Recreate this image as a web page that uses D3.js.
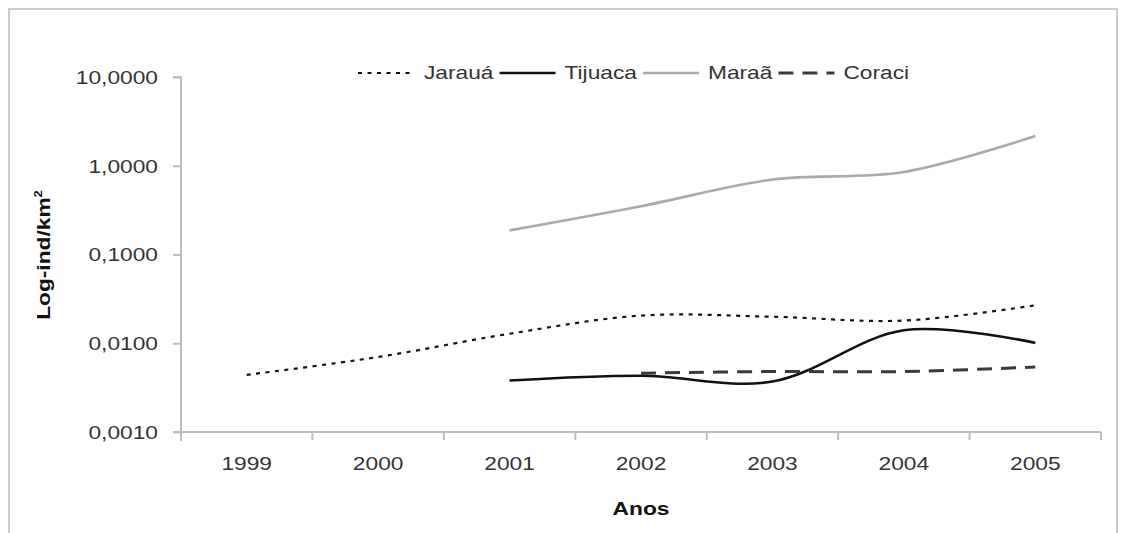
<!DOCTYPE html>
<html>
<head>
<meta charset="utf-8">
<script src="https://cdn.jsdelivr.net/npm/d3@7"></script>
<style>
  html, body { margin: 0; padding: 0; background: #ffffff; }
  svg { display: block; font-family: "Liberation Sans", Arial, sans-serif; }
</style>
</head>
<body>
<svg id="chart" width="1123" height="533"></svg>
<script>
// ---- data ----
const years = ["1999", "2000", "2001", "2002", "2003", "2004", "2005"];
const jaraua  = [0.0044, 0.0070, 0.0128, 0.0205, 0.0199, 0.0180, 0.0268];
const tijuaca = [null, null, 0.0038, 0.0043, 0.0037, 0.0140, 0.0101];
const maraa   = [null, null, 0.187, 0.35, 0.70, 0.85, 2.16];
const coraci  = [null, null, null, 0.0046, 0.0048, 0.0048, 0.0054];
const seriesNames = ["Jarauá", "Tijuaca", "Maraã", "Coraci"];
const yTickValues = [0.001, 0.01, 0.1, 1, 10];
const yTickLabels = ["0,0010", "0,0100", "0,1000", "1,0000", "10,0000"];
const yTitle = "Log-ind/km";
const xTitle = "Anos";

// ---- styles ----
const styles = [
  { color: "#111", width: 2.2, dash: "4,5.5" },
  { color: "#111", width: 2.6, dash: null },
  { color: "#aaaaaa", width: 2.6, dash: null },
  { color: "#3a3a3a", width: 3, dash: "15,9" }
];
const SX = 1.3;           // horizontal stretch of the original lettering
const FS = 17.5;
const axisColor = "#bdbdbd";
const textColor = "#333";

const svg = d3.select("#chart");
const plot = { left: 181, right: 1101, top: 77, bottom: 432 };

// frame
svg.append("rect").attr("x", 9).attr("y", 9).attr("width", 1108).attr("height", 600)
  .attr("fill", "none").attr("stroke", "#cccccc").attr("stroke-width", 2);

const x = d3.scaleBand().domain(years).range([plot.left, plot.right]).padding(0);
const y = d3.scaleLog().domain([0.001, 10]).range([plot.bottom, plot.top]);

function stretch(sel) {
  sel.each(function () {
    const t = d3.select(this);
    const xv = parseFloat(t.attr("x")) || 0;
    t.attr("x", xv / SX).attr("transform", `scale(${SX},1)`);
  });
}

// y axis
const yAxis = svg.append("g").attr("transform", `translate(${plot.left},0)`)
  .call(d3.axisLeft(y).tickValues(yTickValues).tickSize(8).tickPadding(15)
    .tickFormat((d, i) => yTickLabels[i]));
yAxis.select(".domain").attr("stroke", axisColor).attr("stroke-width", 2)
  .attr("d", `M-8,${plot.top}H0V${plot.bottom + 9}`);
yAxis.selectAll(".tick line").attr("stroke", axisColor).attr("stroke-width", 2);
yAxis.selectAll(".tick text").attr("fill", textColor).style("font-size", FS + "px")
  .attr("dy", "0.36em").call(stretch);

// x axis
const xAxis = svg.append("g").attr("transform", `translate(0,${plot.bottom})`)
  .call(d3.axisBottom(x).tickSize(0).tickPadding(26));
xAxis.select(".domain").attr("stroke", axisColor).attr("stroke-width", 2)
  .attr("d", `M${plot.left - 8},0H${plot.right}`);
xAxis.selectAll(".tick text").attr("fill", textColor).style("font-size", FS + "px").call(stretch);
const bounds = years.map(d => x(d)).concat([x(years[years.length - 1]) + x.bandwidth()]);
xAxis.selectAll("line.bound").data(bounds).join("line").attr("class", "bound")
  .attr("x1", d => d).attr("x2", d => d).attr("y1", 0).attr("y2", 8)
  .attr("stroke", axisColor).attr("stroke-width", 2);

// lines
const allSeries = [jaraua, tijuaca, maraa, coraci];
const line = d3.line()
  .x(d => x(d.year) + x.bandwidth() / 2)
  .y(d => y(d.v))
  .curve(d3.curveCatmullRom.alpha(0.5));

allSeries.forEach((vals, i) => {
  const pts = years.map((yr, j) => ({ year: yr, v: vals[j] })).filter(p => p.v != null);
  const p = svg.append("path").datum(pts).attr("d", line)
    .attr("fill", "none").attr("stroke", styles[i].color)
    .attr("stroke-width", styles[i].width);
  if (styles[i].dash) p.attr("stroke-dasharray", styles[i].dash);
});

// legend
const lg = svg.append("g").attr("transform", "translate(358,73)");
let cx = 0;
const lineLen = [57, 56, 56, 56];
seriesNames.forEach((name, i) => {
  const ln = lg.append("line").attr("x1", cx).attr("x2", cx + lineLen[i])
    .attr("y1", 0).attr("y2", 0)
    .attr("stroke", styles[i].color).attr("stroke-width", styles[i].width);
  if (styles[i].dash) ln.attr("stroke-dasharray", styles[i].dash);
  cx += lineLen[i] + 9;
  const t = lg.append("text").attr("x", cx / SX).attr("y", 0).attr("dy", "0.36em")
    .attr("transform", `scale(${SX},1)`)
    .attr("fill", textColor).style("font-size", FS + "px").text(name);
  cx += t.node().getComputedTextLength() * SX + 6;
});

// axis titles
const yt = svg.append("text")
  .attr("transform", `translate(50,255) rotate(-90) scale(${SX},1)`)
  .attr("text-anchor", "middle").attr("fill", "#111")
  .style("font-size", FS + "px").style("font-weight", "bold");
yt.append("tspan").text(yTitle);
yt.append("tspan").attr("dy", -8).style("font-size", "10px").text("2");

svg.append("text").attr("transform", `translate(${(plot.left + plot.right) / 2},515) scale(${SX},1)`)
  .attr("text-anchor", "middle").attr("fill", "#111")
  .style("font-size", FS + "px").style("font-weight", "bold").text(xTitle);
</script>
</body>
</html>
